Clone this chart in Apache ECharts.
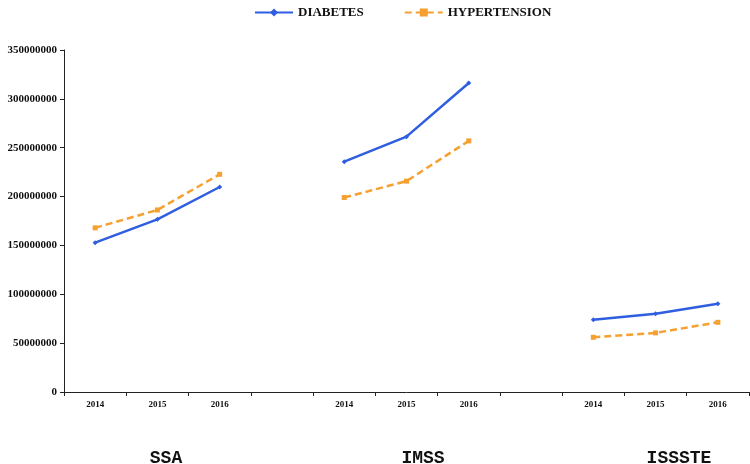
<!DOCTYPE html>
<html>
<head>
<meta charset="utf-8">
<script src="https://cdn.jsdelivr.net/npm/echarts@6/dist/echarts.min.js"></script>
<style>html,body{margin:0;padding:0;background:#fff;}#c{width:750px;height:464px;}</style>
</head>
<body>
<div id="c"></div>
<script>
var categories = ['2014','2015','2016','','2014','2015','2016','','2014','2015','2016'];
var diabetes = [152.8e6, 176.7e6, 209.8e6, null, 235.7e6, 261.3e6, 316.3e6, null, 74e6, 80e6, 90.3e6];
var hypertension = [168e6, 186.3e6, 222.8e6, null, 199e6, 215.8e6, 257e6, null, 56e6, 60.5e6, 71.3e6];
var groupLabels = ['SSA', 'IMSS', 'ISSSTE'];
var yTicks = { min: 0, max: 350000000, interval: 50000000 };

var chart = echarts.init(document.getElementById('c'));
var serif = 'Liberation Serif, Times New Roman, serif';
var mono = 'bold 18px "Liberation Mono", "Courier New", monospace';
chart.setOption({
  animation: false,
  backgroundColor: '#fff',
  legend: {
    top: 1, left: 249, itemWidth: 38, itemHeight: 10, itemGap: 40,
    textStyle: { fontFamily: serif, fontWeight: 'bold', fontSize: 13, color: '#111' },
    data: ['DIABETES', 'HYPERTENSION']
  },
  grid: { left: 64, right: 1, top: 50, bottom: 72, containLabel: false },
  xAxis: {
    type: 'category', data: categories, boundaryGap: true,
    axisLine: { lineStyle: { color: '#222', width: 1 } },
    axisTick: { show: true, length: 4, lineStyle: { color: '#222' } },
    axisLabel: { fontFamily: serif, fontWeight: 'bold', fontSize: 9, color: '#111', margin: 8, interval: 0 }
  },
  yAxis: {
    type: 'value', min: yTicks.min, max: yTicks.max, interval: yTicks.interval,
    splitLine: { show: false },
    axisLine: { show: true, lineStyle: { color: '#222', width: 1 } },
    axisTick: { show: true, length: 4, lineStyle: { color: '#222' } },
    axisLabel: { fontFamily: serif, fontWeight: 'bold', fontSize: 11, color: '#111', margin: 7,
      formatter: function (v) { return String(v); } }
  },
  series: [
    {
      name: 'DIABETES', type: 'line', data: diabetes, connectNulls: false,
      symbol: 'diamond', symbolSize: 5,
      lineStyle: { color: '#2F5FE0', width: 2.5 },
      itemStyle: { color: '#2F5FE0' }
    },
    {
      name: 'HYPERTENSION', type: 'line', data: hypertension, connectNulls: false,
      symbol: 'rect', symbolSize: 5,
      lineStyle: { color: '#F5A031', width: 2.5, type: [7, 4] },
      itemStyle: { color: '#F5A031' }
    }
  ],
  graphic: [
    { type: 'text', x: 166, y: 458, style: { text: groupLabels[0], font: mono, fill: '#111', textAlign: 'center', textVerticalAlign: 'middle' } },
    { type: 'text', x: 423, y: 458, style: { text: groupLabels[1], font: mono, fill: '#111', textAlign: 'center', textVerticalAlign: 'middle' } },
    { type: 'text', x: 679, y: 458, style: { text: groupLabels[2], font: mono, fill: '#111', textAlign: 'center', textVerticalAlign: 'middle' } }
  ]
});
</script>
</body>
</html>
